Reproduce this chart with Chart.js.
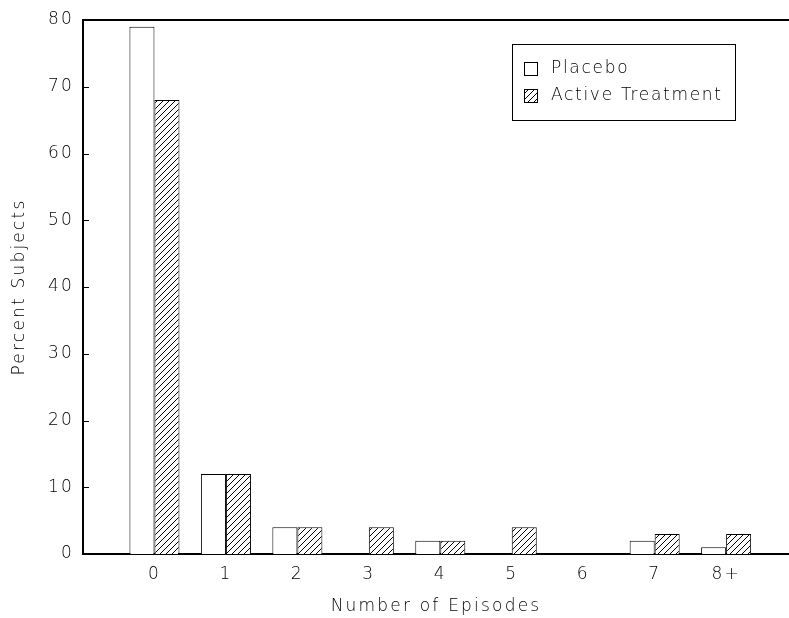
<!DOCTYPE html>
<html>
<head>
<meta charset="utf-8">
<title>Number of Episodes</title>
<script src="https://cdn.jsdelivr.net/npm/chart.js@4.4.1/dist/chart.umd.min.js"></script>
<style>
  html, body { margin: 0; padding: 0; background: #fff; }
  #wrap { width: 789px; height: 618px; }
</style>
</head>
<body>
<div id="wrap"><canvas id="chart"></canvas></div>
<script>
// Data
const episodeLabels = ['0', '1', '2', '3', '4', '5', '6', '7', '8+'];
const placeboPct = [79, 12, 4, 0, 2, 0, 0, 2, 1];
const activePct = [68, 12, 4, 4, 2, 4, 0, 3, 3];
const seriesNames = ['Placebo', 'Active Treatment'];

const FONT = { family: '"DejaVu Sans", "Liberation Sans", sans-serif', size: 17, weight: 200 };
const LETTER_SPACING = '2.2px';

// diagonal hatch fill for the treatment bars
function hatchPattern() {
  const c = document.createElement('canvas');
  c.width = 6;
  c.height = 6;
  const g = c.getContext('2d');
  g.fillStyle = '#fff';
  g.fillRect(0, 0, 6, 6);
  g.strokeStyle = '#000';
  g.lineWidth = 1;
  g.beginPath();
  g.moveTo(0, 6); g.lineTo(6, 0);
  g.moveTo(-1, 1); g.lineTo(1, -1);
  g.moveTo(5, 7); g.lineTo(7, 5);
  g.stroke();
  return g.createPattern(c, 'repeat');
}

// wide lettering like the original plotter font
const spacing = {
  id: 'spacing',
  beforeLayout(chart) { chart.ctx.letterSpacing = LETTER_SPACING; },
  beforeDraw(chart) { chart.ctx.letterSpacing = LETTER_SPACING; }
};

// top frame line + small inward ticks on the y axis
const frame = {
  id: 'frame',
  afterDraw(chart) {
    const { ctx, chartArea } = chart;
    const y = chart.scales.y;
    ctx.save();
    ctx.strokeStyle = '#000';
    ctx.lineWidth = 2;
    ctx.beginPath();
    ctx.moveTo(chartArea.left - 1, chartArea.top);
    ctx.lineTo(chartArea.right, chartArea.top);
    ctx.stroke();
    ctx.lineWidth = 1;
    ctx.beginPath();
    y.ticks.forEach(t => {
      const py = Math.round(y.getPixelForValue(t.value)) + 0.5;
      ctx.moveTo(chartArea.left, py);
      ctx.lineTo(chartArea.left + 6, py);
    });
    ctx.stroke();
    ctx.restore();
  }
};

// boxed legend inside the plot
const boxLegend = {
  id: 'boxLegend',
  afterDraw(chart, args, opts) {
    const ctx = chart.ctx;
    ctx.save();
    ctx.letterSpacing = '1.7px';
    ctx.lineWidth = 1;
    ctx.strokeStyle = '#000';
    ctx.strokeRect(opts.x + 0.5, opts.y + 0.5, opts.w, opts.h);
    ctx.font = FONT.weight + ' ' + FONT.size + 'px ' + FONT.family;
    ctx.textBaseline = 'middle';
    chart.data.datasets.forEach((ds, i) => {
      const y = opts.y + 18 + i * 27;
      ctx.fillStyle = ds.backgroundColor;
      ctx.fillRect(opts.x + 12.5, y + 0.5, 13, 13);
      ctx.strokeRect(opts.x + 12.5, y + 0.5, 13, 13);
      ctx.fillStyle = '#000';
      ctx.fillText(ds.label, opts.x + 39, y + 7);
    });
    ctx.restore();
  }
};

const ctx = document.getElementById('chart').getContext('2d');
const hatch = hatchPattern();

new Chart(ctx, {
  type: 'bar',
  data: {
    datasets: [
      {
        label: seriesNames[0],
        data: episodeLabels.map((l, i) => ({ x: i, y: placeboPct[i] })),
        backgroundColor: '#fff',
        borderColor: '#000',
        borderWidth: 1,
        borderSkipped: 'bottom'
      },
      {
        label: seriesNames[1],
        data: episodeLabels.map((l, i) => ({ x: i, y: activePct[i] })),
        backgroundColor: hatch,
        borderColor: '#000',
        borderWidth: 1,
        borderSkipped: 'bottom'
      }
    ]
  },
  options: {
    responsive: true,
    maintainAspectRatio: false,
    animation: false,
    categoryPercentage: 0.7,
    barPercentage: 1.0,
    layout: { padding: { top: 20, left: 0, right: 0, bottom: 0 } },
    plugins: {
      legend: { display: false },
      tooltip: { enabled: false },
      boxLegend: { x: 512, y: 44, w: 223, h: 76 }
    },
    scales: {
      x: {
        type: 'linear',
        min: -1,
        max: 8.88,
        offset: false,
        grid: { display: false, drawTicks: false },
        border: { display: true, color: '#000', width: 2 },
        afterBuildTicks(scale) {
          scale.ticks = episodeLabels.map((l, i) => ({ value: i }));
        },
        afterFit(scale) { scale.height = 64; },
        ticks: {
          autoSkip: false,
          maxRotation: 0,
          padding: 10,
          color: '#000',
          font: FONT,
          callback: (v) => episodeLabels[v] ?? ''
        },
        title: {
          display: true,
          text: 'Number of Episodes',
          color: '#000',
          font: FONT,
          padding: { top: 0, bottom: 1 }
        }
      },
      y: {
        min: 0,
        max: 80,
        grid: { display: false, drawTicks: false },
        border: { display: true, color: '#000', width: 2 },
        afterFit(scale) { scale.width = 83; },
        ticks: {
          stepSize: 10,
          padding: 9,
          color: '#000',
          font: FONT
        },
        title: {
          display: true,
          text: 'Percent Subjects',
          color: '#000',
          font: FONT,
          padding: { top: 9, bottom: 0 }
        }
      }
    }
  },
  plugins: [spacing, frame, boxLegend]
});
</script>
</body>
</html>
